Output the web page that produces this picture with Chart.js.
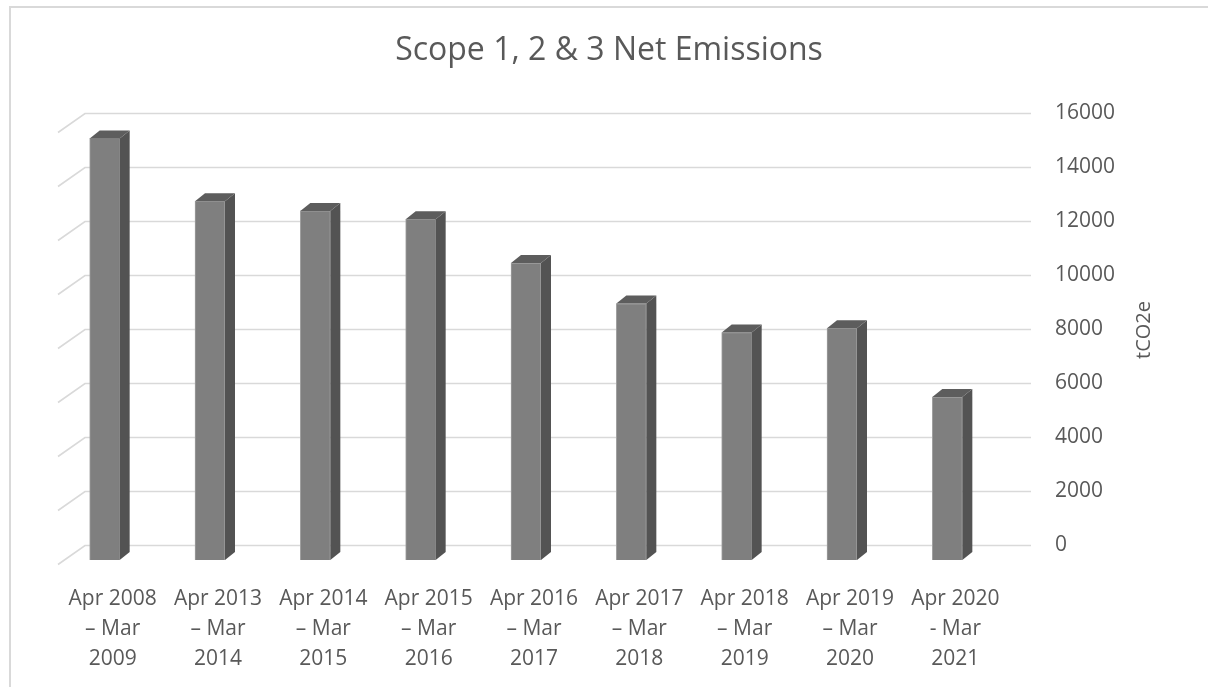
<!DOCTYPE html>
<html>
<head>
<meta charset="utf-8">
<script src="https://cdn.jsdelivr.net/npm/chart.js@4"></script>
<style>
  body { margin: 0; background: #fff; overflow: hidden; }
  #wrap { position: relative; width: 1208px; height: 687px; }
</style>
</head>
<body>
<div id="wrap"><canvas id="emissions-chart"></canvas></div>
<script>
// chart data
const periods = [
    ["Apr 2008", "\u2013 Mar", "2009"],
    ["Apr 2013", "\u2013 Mar", "2014"],
    ["Apr 2014", "\u2013 Mar", "2015"],
    ["Apr 2015", "\u2013 Mar", "2016"],
    ["Apr 2016", "\u2013 Mar", "2017"],
    ["Apr 2017", "\u2013 Mar", "2018"],
    ["Apr 2018", "\u2013 Mar", "2019"],
    ["Apr 2019", "\u2013 Mar", "2020"],
    ["Apr 2020", "- Mar", "2021"]
]
const netEmissions = [15630, 13300, 12940, 12630, 11010, 9510, 8430, 8590, 6040]
const yMin = 0
const yMax = 16000
const yStep = 2000

const chartTitle = "Scope 1, 2 & 3 Net Emissions"
const yTitle = "tCO2e"

const textColor = "#595959"
const gridColor = "#d9d9d9"

// fake 3d: bars sit in front of the back wall
const front = { dx: -21, dy: 15 }
const depth = { dx: 10, dy: -8 }
const floor = { dx: -27, dy: 19 }

const fake3d = {
    id: "fake3d",
    beforeDraw(chart) {
        const ctx = chart.ctx
        ctx.save()
        ctx.strokeStyle = gridColor
        ctx.lineWidth = 2
        ctx.strokeRect(10, 7, 1400, 900)
        // back wall gridlines + slanted floor/side lines
        const y = chart.scales.y
        const a = chart.chartArea
        const left = a.left + 12
        const right = a.right + 10
        ctx.lineWidth = 1.6
        for (let v = yMin; v <= yMax; v += yStep) {
            const py = Math.round(y.getPixelForValue(v)) + 0.5
            ctx.beginPath()
            ctx.moveTo(left + floor.dx, py + floor.dy)
            ctx.lineTo(left, py)
            ctx.lineTo(right, py)
            ctx.stroke()
        }
        ctx.restore()
    },
    beforeDatasetsDraw(chart) {
        chart.ctx.save()
        chart.ctx.translate(front.dx, front.dy)
    },
    afterDatasetsDraw(chart) {
        const ctx = chart.ctx
        const meta = chart.getDatasetMeta(0)
        meta.data.forEach(bar => {
            const p = bar.getProps(["x", "y", "base", "width"], true)
            const l = p.x - p.width / 2, r = p.x + p.width / 2
            // side
            ctx.fillStyle = "#535353"
            ctx.beginPath()
            ctx.moveTo(r, p.y)
            ctx.lineTo(r + depth.dx, p.y + depth.dy)
            ctx.lineTo(r + depth.dx, p.base + depth.dy)
            ctx.lineTo(r, p.base)
            ctx.closePath()
            ctx.fill()
            // top
            ctx.fillStyle = "#5d5d5d"
            ctx.beginPath()
            ctx.moveTo(l, p.y)
            ctx.lineTo(l + depth.dx, p.y + depth.dy)
            ctx.lineTo(r + depth.dx, p.y + depth.dy)
            ctx.lineTo(r, p.y)
            ctx.closePath()
            ctx.fill()
        })
        ctx.restore()

        // rotated axis title, reads bottom to top
        ctx.save()
        ctx.fillStyle = textColor
        ctx.font = "20px 'Open Sans'"
        ctx.textAlign = "center"
        ctx.textBaseline = "middle"
        ctx.translate(1144, 330)
        ctx.rotate(-Math.PI / 2)
        ctx.fillText(yTitle, 0, 0)
        ctx.restore()
    }
}

new Chart(document.getElementById("emissions-chart"), {
    type: "bar",
    data: {
        labels: periods,
        datasets: [{
            label: "Net emissions",
            data: netEmissions,
            backgroundColor: "#7f7f7f",
            borderColor: "#a0a0a0",
            borderWidth: 1,
            barThickness: 30
        }]
    },
    options: {
        responsive: true,
        maintainAspectRatio: false,
        animation: false,
        devicePixelRatio: 1,
        layout: { padding: { left: 73, right: 63, top: 0, bottom: 15 } },
        plugins: {
            legend: { display: false },
            tooltip: { enabled: false },
            title: {
                display: true,
                text: chartTitle,
                color: textColor,
                font: { family: "'Open Sans'", size: 32, weight: "normal", lineHeight: 1.2 },
                padding: { top: 32, bottom: 43 }
            }
        },
        scales: {
            x: {
                grid: { display: false, drawTicks: false },
                border: { display: false },
                ticks: {
                    color: textColor,
                    font: { family: "'Open Sans'", size: 21, lineHeight: 1.42 },
                    labelOffset: -13,
                    padding: 39,
                    maxRotation: 0,
                    autoSkip: false
                },
                afterFit: s => { s.height = 127 }
            },
            y: {
                position: "right",
                min: yMin,
                max: yMax,
                grid: { display: false, drawTicks: false },
                border: { display: false },
                ticks: {
                    stepSize: yStep,
                    color: textColor,
                    font: { family: "'Open Sans'", size: 21 },
                    padding: 34,
                    callback: v => String(v)
                },
                afterFit: s => { s.width = 124 }
            }
        }
    },
    plugins: [fake3d]
})
</script>
</body>
</html>
